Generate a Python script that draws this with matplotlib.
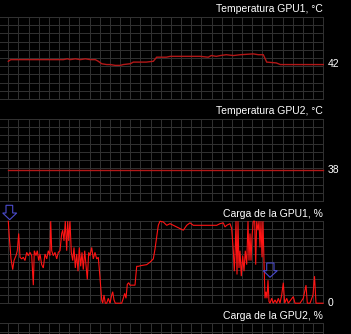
import matplotlib
matplotlib.use('Agg')
import matplotlib.pyplot as plt
import numpy as np
from matplotlib.patches import Polygon

W, H, DPI = 351, 334, 100

panel_titles = ["Temperatura GPU1, °C", "Temperatura GPU2, °C",
                "Carga de la GPU1, %", "Carga de la GPU2, %"]

# time in seconds (history window)
temp1_t = [0, 2.4, 55, 59, 62, 67, 72, 77, 82, 87, 90, 93.4, 98.4, 102, 107, 112,
           115, 122, 125, 138, 145, 148.4, 158, 162, 192, 200, 203, 208, 212, 218,
           225, 232, 245, 250, 255, 258.4, 268, 272, 312, 315]
temp1_v = [46, 48, 48, 49, 48, 49, 48, 49, 48, 48, 46, 43, 42, 42, 41, 41,
           42, 43, 45, 45, 46, 51, 51, 52, 52, 51, 53, 52, 53, 54,
           53, 54, 55, 54, 54, 45, 44, 42, 42, 42]

temp2_t = [0, 60, 120, 180, 240, 315]
temp2_v = [38, 38, 38, 38, 38, 38]

load1_t = [0, 1, 2.7, 4.4, 5.7, 7.7, 9, 10.4, 11.7, 13.4, 15, 16.7, 18.4, 20, 21.7,
           23.4, 25, 26, 27.7, 29, 30.4, 31.7, 33.4, 35, 36.7, 38.4, 40, 41.7, 42.4,
           43.4, 45, 46.7, 48.4, 50, 51.7, 53.4, 54.4, 55.7, 57, 58.4, 59.4, 60.4,
           61.7, 63, 64.4, 65.7, 67, 68.4, 69.7, 71, 72.4, 73.7, 75, 76.4, 77.7, 79,
           80.4, 81.7, 83.4, 85, 86.7, 88.4, 90, 91.7, 93.4, 94.4, 95.7, 97, 98.4,
           100, 101.7, 103.4, 104.4, 105.7, 107, 113.4, 115, 116.4, 117.7, 119,
           120.4, 121.7, 126.7, 128.4, 130, 133.4, 138.4, 141.7, 145, 146.7, 148.4,
           150, 151.7, 155, 158.4, 161.7, 165, 168.4, 171.7, 175, 178.4, 181.7, 185,
           208.4, 211.7, 215, 216.7, 218.4, 221.7, 223.4, 225, 226, 227, 227.7,
           228.7, 229.7, 230.7, 231.7, 233, 234.4, 235.7, 237, 238.4, 239.7, 240.7,
           241.7, 242.7, 243.7, 245, 246.4, 247.4, 248.4, 249.7, 250.7, 251.7,
           252.7, 253.7, 254.7, 255.7, 256.7, 257.7, 258.7, 259.7, 260.7, 261.7,
           263.4, 265, 266.7, 268.4, 270, 271.7, 273.4, 275, 276.4, 278.4, 280,
           285, 286.7, 291.7, 295, 297.7, 299, 301.7, 304.7, 306.2, 307.7, 314.7]
load1_v = [100, 81, 54, 41, 52, 58, 64, 85, 56, 54, 56, 52, 62, 58, 62,
           58, 22, 64, 58, 64, 52, 60, 47, 43, 60, 54, 64, 58, 100,
           64, 58, 62, 54, 62, 64, 85, 89, 76, 100, 64, 100, 76,
           100, 62, 52, 68, 43, 60, 39, 68, 45, 62, 41, 64, 47, 29,
           62, 58, 68, 54, 62, 54, 56, 31, 4, 0, 10, 0, 0,
           6, 0, 10, 14, 4, 0, 0, 6, 12, 6, 23,
           25, 22, 22, 45, 45, 46, 47, 50, 54, 66, 81,
           95, 100, 99, 95, 97, 95, 93, 91, 89, 95, 98, 95,
           95, 97, 98, 93, 95, 97, 91, 64, 39, 68, 100,
           35, 100, 43, 64, 33, 58, 39, 64, 47, 100, 52,
           85, 52, 81, 100, 100, 47, 100, 89, 100, 68,
           100, 56, 100, 50, 6, 14, 6, 28, 2, 0,
           6, 0, 4, 0, 6, 0, 10, 25, 0, 6, 0,
           8, 0, 0, 6, 22, 0, 0, 10, 33, 0, 0]

series_list = [(temp1_t, temp1_v), (temp2_t, temp2_v), (load1_t, load1_v), None]
line_colors = ['#b31818', '#b31818', '#ff1414', None]
line_widths = [1.0, 1.0, 0.8, None]

GRID = '#303030'
ARROW = '#4b4bcc'
X_LEFT_PAD = 8.3
SPAN = 315
GRID_RIGHT = 323.3
PANEL_TOP = [17, 119.1, 221.2, 323.3]
PANEL_H = 82

fig = plt.figure(figsize=(W / DPI, H / DPI), dpi=DPI, facecolor='black')


def fx(px):
    return px / W


def fy(py):
    return 1 - py / H


font = dict(color='white', fontsize=7.5, family=['Liberation Sans', 'DejaVu Sans'])

for k in range(4):
    top = PANEL_TOP[k]
    ax = fig.add_axes([0, fy(top + PANEL_H), fx(GRID_RIGHT), PANEL_H / H])
    ax.set_xlim(-X_LEFT_PAD, SPAN)
    ax.set_ylim(0, 100)
    ax.axis('off')
    for v in np.linspace(0, 100, 11):
        ax.axhline(v, color=GRID, lw=0.75, zorder=1, clip_on=False)
    for t in np.linspace(0, SPAN, 32):
        ax.axvline(t, color=GRID, lw=0.75, zorder=1, clip_on=False)
    s = series_list[k]
    if s is not None:
        ax.plot(s[0], s[1], color=line_colors[k], lw=line_widths[k], zorder=3,
                clip_on=False, solid_joinstyle='miter')
        last = s[1][-1]
        ypx = top + (100 - last) / 100 * PANEL_H + 2.6
        fig.text(fx(327.3), fy(ypx), f"{last:g}", ha='left', va='baseline', **font)
    fig.text(fx(GRID_RIGHT), fy(top - 4.6), panel_titles[k], ha='right',
             va='baseline', **font)

# event marker arrows
arrows = [
    [(6, 205.3), (12.7, 205.3), (12.7, 213), (16.7, 213), (9.7, 219.7), (2.7, 213), (6, 213)],
    [(266.7, 263), (274, 263), (274, 270.7), (277.3, 270.7), (270, 277.3), (263.3, 270.7), (266.7, 270.7)],
]
for pts in arrows:
    poly = Polygon([(fx(x), fy(y)) for x, y in pts], closed=True, fill=False,
                   edgecolor=ARROW, lw=0.8, transform=fig.transFigure, zorder=5)
    fig.patches.append(poly)

fig.savefig('out.png', dpi=DPI, facecolor='black')
